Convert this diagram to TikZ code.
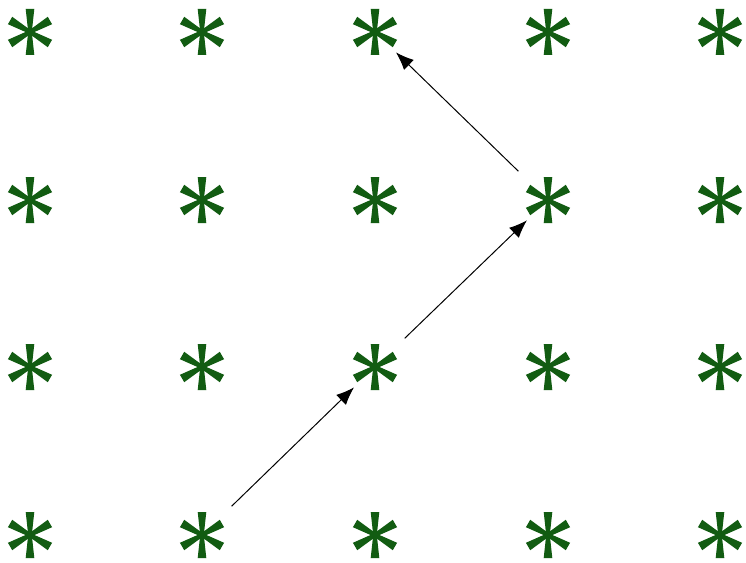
\documentclass[tikz,border=0pt]{standalone}
\usetikzlibrary{arrows.meta}
\definecolor{astgreen}{RGB}{18,92,18}
\tikzset{
  %% grid points (invisible, carry the names)
  gridpt/.style={circle, inner sep=0pt, minimum size=1.5cm},
  %% one arm of an asterisk
  spoke/.style={fill=astgreen, draw=none},
  %% walk arrows
  arw/.style={-{Latex[length=0.54cm,width=0.42cm]}, line width=0.85pt, black,
    shorten <=0.48cm, shorten >=0.12cm},
}
\begin{document}
\begin{tikzpicture}[x=0.03cm, y=-0.03cm]
  \useasboundingbox (0,0) rectangle (746,563);

  %% Lattice of asterisks
  \foreach \c/\x in {1/30,2/202,3/375,4/548,5/720}
    \foreach \r/\y in {1/32,2/200,3/367,4/535} {
      \node[gridpt] (s-\c-\r) at (\x,\y) {};
      \foreach \a in {90,30,150,270,210,330}
        \fill[spoke, shift={(s-\c-\r.center)}, rotate=\a]
          (0,-1.8) -- (23,-4.3) -- (23,4.3) -- (0,1.8) -- cycle;
    }

  %% Walk
  \draw[arw] (s-2-4) -- (s-3-3);
  \draw[arw] (s-3-3) -- (s-4-2);
  \draw[arw] (s-4-2) -- (s-3-1);

\end{tikzpicture}
\end{document}
